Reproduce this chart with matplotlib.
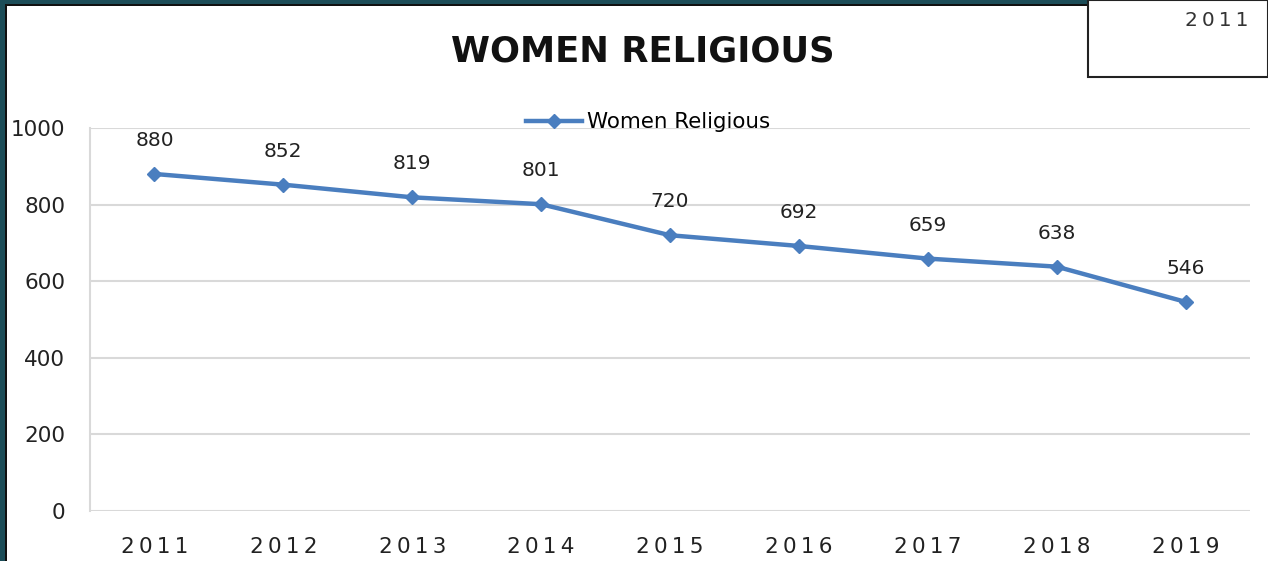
import matplotlib
matplotlib.use("Agg")
import matplotlib.pyplot as plt
from matplotlib.patches import Rectangle

# data
years = ["2011", "2012", "2013", "2014", "2015", "2016", "2017", "2018", "2019"]
women_religious = [880, 852, 819, 801, 720, 692, 659, 638, 546]
y_ticks = [0, 200, 400, 600, 800, 1000]

line_blue = "#4a7ebf"
grid_grey = "#d9d9d9"
teal = "#1c4d58"

plt.rcParams["font.family"] = ["DejaVu Sans"]

fig = plt.figure(figsize=(12.68, 5.61), dpi=100)
W, H = 1268.0, 561.0

# slide frame: teal band on the left and top with a dark inner edge
fig.patches.append(Rectangle((0, 0), 5 / W, 1, transform=fig.transFigure,
                             facecolor=teal, edgecolor="none", zorder=0))
fig.patches.append(Rectangle((5 / W, 0), 2 / W, 1 - 4 / H, transform=fig.transFigure,
                             facecolor="#111111", edgecolor="none", zorder=0))
fig.patches.append(Rectangle((0, 1 - 4 / H), 1, 4 / H, transform=fig.transFigure,
                             facecolor=teal, edgecolor="none", zorder=0))
fig.patches.append(Rectangle((5 / W, 1 - 6 / H), 1, 2 / H, transform=fig.transFigure,
                             facecolor="#111111", edgecolor="none", zorder=0))
# white box in the top right corner
fig.patches.append(Rectangle((1088 / W, 1 - 77 / H), 1 - 1088 / W, 77 / H,
                             transform=fig.transFigure, facecolor="white",
                             edgecolor="#222222", linewidth=1.5, zorder=1))
fig.text(1217 / W, 1 - 20 / H, "\u2009".join(years[0]), ha="center", va="center",
         fontsize=14.5, color="#333333")

ax = fig.add_axes([90 / W, 1 - 511 / H, (1250 - 90) / W, (511 - 128) / H])
x = list(range(len(years)))
ax.plot(x, women_religious, color=line_blue, linewidth=3.2, marker="D",
        markersize=7.5, label="Women Religious", zorder=3, clip_on=False)

for xi, v in zip(x, women_religious):
    ax.annotate(str(v), (xi, v), xytext=(0, 24), textcoords="offset points",
                ha="center", va="center", fontsize=14.5, color="#222222")

ax.set_xlim(-0.5, len(years) - 0.5)
ax.set_ylim(0, 1000)
ax.set_yticks(y_ticks)
ax.set_yticklabels([str(t) for t in y_ticks], fontsize=15.5, color="#222222")
ax.set_xticks(x)
ax.set_xticklabels(["\u2009".join(y) for y in years], fontsize=15.5, color="#222222")
ax.tick_params(axis="both", length=0)
ax.tick_params(axis="y", pad=18)
ax.tick_params(axis="x", pad=19)
ax.grid(axis="y", color=grid_grey, linewidth=1.5)
ax.set_axisbelow(True)
for s in ["top", "right", "bottom"]:
    ax.spines[s].set_visible(False)
ax.spines["left"].set_color(grid_grey)
ax.spines["left"].set_linewidth(1.5)

fig.text(643 / W, 1 - 52 / H, "WOMEN RELIGIOUS", ha="center", va="center",
         fontsize=25.5, fontweight="bold", color="#111111")

fig.legend(loc="center", bbox_to_anchor=(648 / W, 1 - 122 / H), frameon=False,
           fontsize=15.4, handlelength=2.6, handletextpad=0.25,
           borderaxespad=0, borderpad=0)

fig.savefig("out.png", dpi=100, facecolor="white")
